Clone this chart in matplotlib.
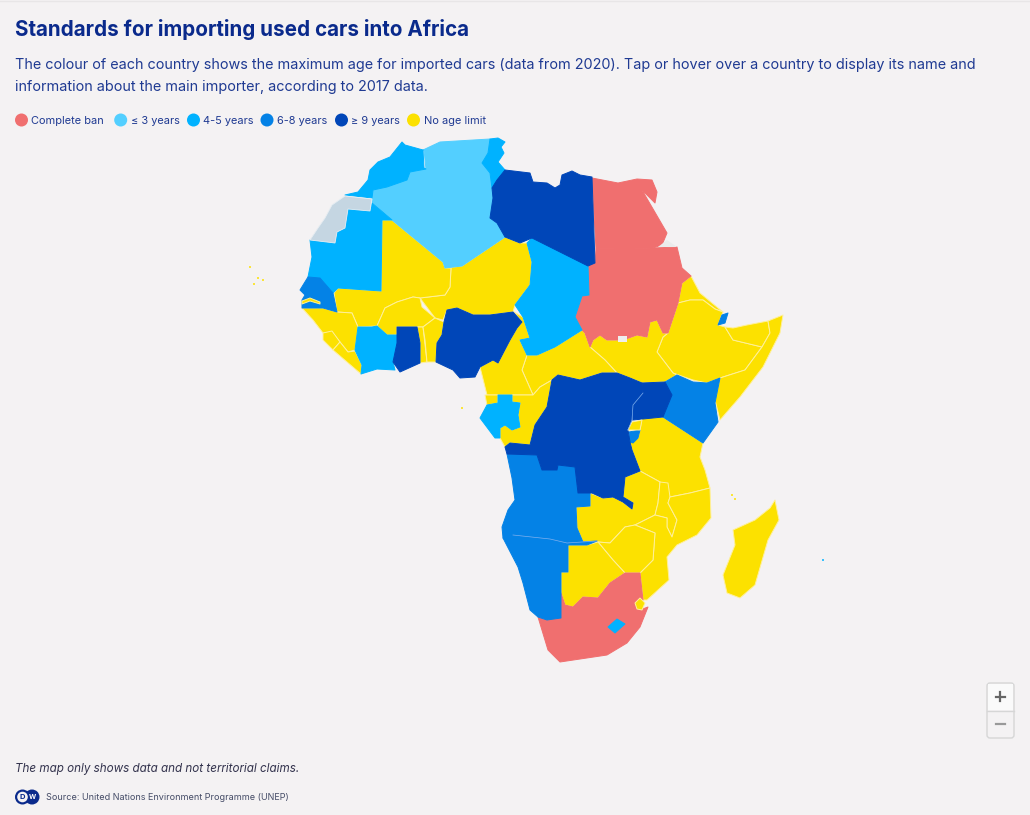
import matplotlib
matplotlib.use("Agg")
import matplotlib.pyplot as plt
from matplotlib.patches import Polygon, FancyBboxPatch, Circle, Rectangle

# legend
categories = ["Complete ban", "≤ 3 years", "4-5 years", "6-8 years", "≥ 9 years", "No age limit"]
cat_colors = ["#f06f6f", "#53cfff", "#00b2ff", "#0482e6", "#0046b8", "#fce100"]

morocco = [(345,195),(358,192),(368,180),(370,170),(378,162),(390,157),(402,142),(405,145),(423,150),(424,168),(426,169),(410,172),(407,180),(387,187),(373,190),(372,198)]
w_sahara = [(345,196),(372,199),(370,211),(348,209),(345,228),(337,232),(335,243),(310,240),(318,228),(325,218),(332,205)]
mauritania = [(348,209),(370,211),(372,203),(392,220),(382,220),(381,291),(338,288),(333,293),(320,278),(308,277),(312,257),(310,240),(335,243),(337,232),(345,228)]
algeria = [(423,150),(440,142),(490,139),(488,153),(482,163),(490,173),(492,188),(497,213),(505,237),(462,266),(445,268),(443,262),(392,220),(372,202),(373,190),(387,187),(407,180),(410,172),(426,169),(424,150)]
tunisia = [(490,139),(498,138),(505,142),(501,147),(504,153),(498,162),(505,170),(497,180),(492,188),(490,173),(482,163),(488,153)]
libya = [(505,170),(530,173),(533,182),(547,183),(555,188),(560,185),(562,175),(572,171),(580,175),(592,177),(595,263),(588,266),(532,238),(520,243),(505,237),(497,223),(490,218),(493,198),(492,188),(497,180)]
niger = [(445,268),(462,266),(505,237),(520,243),(527,243),(532,262),(530,285),(515,305),(513,312),(490,315),(473,315),(457,308),(447,310),(443,320),(435,318),(420,298),(445,295),(450,287),(451,268)]
mali = [(382,220),(392,220),(443,262),(445,268),(451,268),(450,287),(445,295),(420,298),(413,297),(397,302),(385,308),(377,326),(358,327),(352,313),(337,312),(334,293),(338,288),(381,291)]
burkina = [(385,308),(397,302),(413,297),(420,298),(422,307),(435,318),(423,327),(397,327),(397,335),(387,335),(377,326)]
senegal = [(300,290),(308,277),(320,278),(333,293),(337,312),(323,308),(302,308),(302,300),(305,295)]
gambia = [(302,301),(310,298),(320,302),(320,304),(310,301),(302,304)]
guinea = [(302,308),(323,308),(337,312),(352,313),(358,327),(358,330),(355,350),(348,352),(340,342),(332,332),(323,333),(313,320)]
sierra_leone = [(323,333),(332,331),(340,342),(333,350),(323,340)]
liberia = [(333,350),(340,342),(348,352),(355,351),(362,365),(361,374)]
ivory_coast = [(358,327),(372,327),(377,326),(387,335),(397,335),(397,343),(393,362),(395,370),(377,369),(361,374),(362,365),(355,350)]
ghana = [(397,327),(417,327),(420,343),(420,363),(400,372),(393,362),(397,343)]
togo = [(417,327),(423,327),(427,362),(420,363),(420,343)]
benin = [(423,327),(435,318),(444,322),(442,335),(437,343),(436,362),(427,362),(425,340)]
nigeria = [(444,322),(447,310),(457,308),(473,315),(490,315),(513,312),(522,322),(517,328),(510,340),(498,363),(493,360),(480,367),(475,377),(460,378),(453,370),(436,362),(437,343),(442,335)]
chad = [(532,238),(588,265),(589,295),(582,296),(575,317),(582,330),(555,347),(537,355),(527,355),(520,340),(530,338),(523,317),(515,305),(530,285),(532,262),(527,243)]
egypt = [(592,178),(618,183),(637,179),(652,180),(657,192),(655,203),(642,190),(667,233),(662,245),(653,248),(596,249)]
sudan = [(596,249),(653,248),(677,247),(682,268),(691,276),(682,283),(678,303),(668,333),(663,333),(657,320),(650,322),(647,337),(637,335),(623,340),(607,340),(600,335),(593,340),(590,347),(585,333),(582,330),(575,317),(582,296),(589,295),(588,265),(595,263)]
eritrea = [(691,276),(700,293),(723,312),(715,309),(703,300),(690,300),(678,303),(682,283)]
djibouti = [(718,325),(722,315),(728,313),(725,323)]
ethiopia = [(678,303),(690,300),(703,300),(715,309),(723,312),(718,325),(725,327),(733,340),(762,347),(745,370),(723,377),(707,383),(693,380),(673,373),(657,352),(663,337),(668,333)]
somaliland = [(725,327),(733,328),(747,325),(768,321),(770,333),(762,347),(733,340)]
somalia = [(768,321),(783,315),(780,333),(763,367),(740,397),(720,420),(715,400),(720,378),(745,370),(762,347),(770,333)]
s_sudan = [(590,347),(593,340),(600,335),(607,340),(623,340),(637,335),(647,337),(650,322),(657,320),(663,333),(668,333),(663,337),(657,352),(673,373),(677,375),(665,382),(642,383),(630,378),(617,373),(605,360)]
car = [(527,355),(537,355),(555,347),(582,330),(585,333),(590,347),(605,360),(617,373),(602,373),(580,380),(558,375),(552,380),(540,387),(533,395),(522,370)]
cameroon = [(514,312),(523,317),(530,338),(520,340),(527,355),(522,370),(533,395),(487,395),(480,367),(493,360),(498,363),(510,340),(517,328),(522,322)]
eq_guinea = [(485,395),(498,395),(498,403),(487,405)]
gabon = [(498,395),(512,395),(512,402),(520,403),(518,415),(520,427),(512,430),(505,425),(500,428),(500,438),(495,438),(480,418),(487,405),(498,403)]
congo = [(512,395),(533,395),(540,387),(552,380),(547,407),(535,425),(530,445),(510,443),(505,447),(500,438),(500,428),(505,425),(512,430),(520,427),(518,415),(520,403),(512,402)]
drc = [(552,380),(558,375),(580,380),(602,373),(617,373),(630,378),(642,383),(643,393),(633,405),(632,420),(628,430),(630,442),(632,450),(640,471),(625,477),(623,497),(633,503),(632,509),(623,502),(613,497),(603,498),(592,493),(578,493),(575,467),(558,465),(557,470),(542,470),(537,455),(507,454),(505,447),(510,443),(530,445),(535,425),(547,407)]
uganda = [(642,383),(665,382),(672,395),(663,417),(633,420),(633,405),(643,393)]
rwanda = [(628,430),(632,422),(642,420),(640,430)]
burundi = [(629,432),(640,430),(638,438),(633,443),(630,442)]
kenya = [(665,382),(677,375),(693,382),(707,383),(720,378),(715,403),(718,422),(703,443),(663,417),(672,395)]
tanzania = [(642,418),(663,417),(703,443),(700,457),(705,470),(710,488),(690,493),(670,497),(660,482),(640,471),(632,450),(630,442),(638,438),(640,430)]
angola = [(507,454),(537,455),(542,470),(557,470),(558,465),(575,467),(578,493),(590,493),(590,506),(576,507),(577,528),(583,542),(567,543),(550,539),(513,535),(503,538),(502,527),(508,510),(515,500),(512,478)]
namibia = [(503,538),(513,535),(550,539),(567,543),(597,541),(587,545),(568,545),(568,572),(561,572),(561,618),(547,620),(538,617),(530,610),(523,583),(518,567)]
zambia = [(590,493),(603,498),(613,497),(623,502),(632,509),(633,503),(623,497),(625,477),(640,471),(660,482),(658,503),(655,515),(635,525),(625,527),(610,543),(598,542),(583,542),(577,528),(576,507),(590,506)]
malawi = [(660,482),(668,483),(670,497),(668,503),(677,520),(672,537),(667,527),(667,518),(655,515),(658,503)]
mozambique = [(670,497),(690,493),(710,488),(711,518),(697,535),(677,545),(667,557),(669,580),(647,600),(643,600),(640,573),(653,560),(655,533),(635,525),(655,515),(667,518),(667,527),(672,537),(677,520),(668,503)]
zimbabwe = [(610,543),(625,527),(635,525),(655,533),(653,560),(640,573),(625,573),(613,560),(598,542)]
botswana = [(568,545),(587,545),(598,542),(613,560),(625,573),(610,583),(598,598),(583,597),(573,607),(565,605),(561,593),(561,572),(568,572)]
south_africa = [(561,593),(565,605),(573,607),(583,597),(598,598),(610,583),(625,573),(640,573),(643,600),(635,603),(640,610),(648,607),(640,627),(627,643),(607,655),(560,662),(548,650),(538,617),(547,620),(561,618)]
eswatini = [(635,603),(640,598),(645,603),(642,610),(637,609)]
lesotho = [(608,627),(617,619),(625,624),(615,633)]
madagascar = [(775,500),(779,520),(768,540),(755,585),(740,598),(727,593),(723,575),(735,545),(733,530),(755,520),(770,508)]
halaib = [(658,247),(667,240),(677,247)]
abyei = [(618,336),(627,336),(627,342),(618,342)]

# countries by legend class
ban = [egypt, sudan, south_africa]
upto3 = [algeria]
age4_5 = [morocco, mauritania, tunisia, chad, ivory_coast, gabon, lesotho]
age6_8 = [senegal, kenya, angola, namibia, djibouti, burundi]
age9 = [libya, ghana, nigeria, drc, uganda]
no_limit = [niger, mali, burkina, guinea, sierra_leone, liberia, togo, benin, eritrea, ethiopia,
            somaliland, somalia, s_sudan, car, cameroon, eq_guinea, congo, tanzania, zambia, malawi,
            mozambique, zimbabwe, botswana, madagascar]
enclaves = [gambia, eswatini, rwanda]
groups = [no_limit, ban, upto3, age4_5, age6_8, age9, enclaves]
group_colors = ["#fce100", "#f06f6f", "#53cfff", "#00b2ff", "#0482e6", "#0046b8", "#fce100"]

# small islands
island_x = [250, 254, 258, 263, 462, 732, 735, 823]
island_y = [267, 284, 278, 280, 408, 495, 499, 560]
island_c = ["#fce100"] * 7 + ["#00b2ff"]

title = "Standards for importing used cars into Africa"
subtitle = ["The colour of each country shows the maximum age for imported cars (data from 2020). Tap or hover over a country to display its name and",
            "information about the main importer, according to 2017 data."]
note = "The map only shows data and not territorial claims."
source = "Source: United Nations Environment Programme (UNEP)"

bg = "#f4f2f3"
navy = "#0a2a8c"
text_blue = "#1f3a92"
plt.rcParams["font.family"] = ["Inter", "DejaVu Sans"]

fig = plt.figure(figsize=(10.3, 8.15), dpi=100, facecolor=bg)
ax = fig.add_axes([0, 0, 1, 1])
ax.set_xlim(0, 1030)
ax.set_ylim(815, 0)
ax.axis("off")

ax.plot([0, 1030], [0.5, 0.5], color="#e8e6e7", lw=1)

for group, col in zip(groups, group_colors):
    edge = "#fff09a" if col == "#fce100" else col
    for outline in group:
        ax.add_patch(Polygon(outline, closed=True, facecolor=col, edgecolor=edge, lw=0.7, joinstyle="round"))
# thin pale borders where dark countries meet
ax.plot([643, 633, 632, 628], [393, 405, 420, 430], color="#7fb0ee", lw=0.5)
ax.plot([513, 550, 567, 597], [535, 539, 543, 541], color="#7fb0ee", lw=0.5)
ax.add_patch(Polygon(w_sahara, closed=True, facecolor="#c5d6e2", edgecolor="#e6edf2", lw=0.6))
ax.add_patch(Polygon(halaib, closed=True, facecolor="#ebebeb", edgecolor="none"))
ax.add_patch(Polygon(abyei, closed=True, facecolor="#eeeeee", edgecolor="none"))
ax.scatter(island_x, island_y, s=2, c=island_c, linewidths=0)

ax.text(15, 29, title, fontsize=14.85, fontweight="bold", color=navy, va="center", ha="left")
ax.text(15, 64.5, subtitle[0], fontsize=10.39, color=text_blue, va="center", ha="left")
ax.text(15, 86.5, subtitle[1], fontsize=10.39, color=text_blue, va="center", ha="left")

leg_x = [21.5, 120.7, 193.5, 267, 341.5, 413.5]
leg_tx = [31, 131, 203, 277, 351, 424]
for lx, tx, lab, col in zip(leg_x, leg_tx, categories, cat_colors):
    ax.add_patch(Circle((lx, 120), 6.5, facecolor=col, edgecolor="none"))
    ax.text(tx, 120.5, lab, fontsize=7.9, color=text_blue, va="center", ha="left")

# zoom buttons
ax.add_patch(FancyBboxPatch((987, 683), 27, 55, boxstyle="round,pad=0,rounding_size=3", facecolor=bg, edgecolor="#d6d6d6", lw=1))
ax.add_patch(Rectangle((988, 684), 25, 26, facecolor="#fafafa", edgecolor="none"))
ax.plot([987, 1014], [710.5, 710.5], color="#d6d6d6", lw=1)
ax.plot([995.5, 1004.5], [696.5, 696.5], color="#666666", lw=1.6)
ax.plot([1000, 1000], [692, 701], color="#666666", lw=1.6)
ax.plot([995.5, 1004.5], [724, 724], color="#999999", lw=1.6)

ax.text(15, 769, note, fontsize=8.4, style="italic", color="#33334d", va="center", ha="left")

# DW logo
ax.add_patch(Circle((22.5, 797), 7.5, facecolor=navy, edgecolor="none"))
ax.add_patch(Circle((32, 797), 7.5, facecolor=navy, edgecolor="none"))
ax.add_patch(Circle((22.5, 797), 5.3, facecolor=bg, edgecolor="none"))
ax.text(22.5, 797, "D", fontsize=5.5, fontweight="bold", color=navy, va="center", ha="center")
ax.text(32.5, 797, "W", fontsize=5, fontweight="bold", color="white", va="center", ha="center")
ax.text(46, 797, source, fontsize=6.5, color="#444b66", va="center", ha="left")

fig.savefig("out.png", dpi=100, facecolor=bg)
